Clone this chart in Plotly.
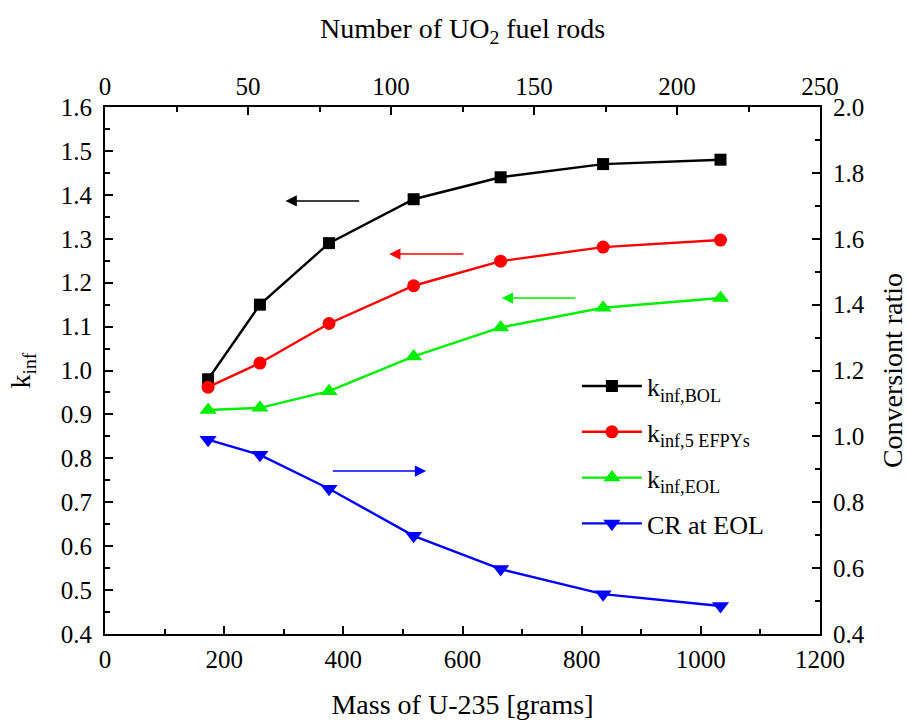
import plotly.graph_objects as go

mass_u235 = [173, 260, 376, 518, 664, 836, 1033]
k_inf_bol = [0.98, 1.15, 1.29, 1.39, 1.44, 1.47, 1.48]
k_inf_5efpy = [0.962, 1.017, 1.107, 1.193, 1.249, 1.281, 1.297]
k_inf_eol = [0.91, 0.915, 0.953, 1.032, 1.098, 1.143, 1.165]
cr_eol = [0.99, 0.944, 0.841, 0.698, 0.597, 0.521, 0.485]

names = ["k<sub>inf,BOL</sub>", "k<sub>inf,5 EFPYs</sub>", "k<sub>inf,EOL</sub>", "CR at EOL"]
colors = ["#000000", "#ff0000", "#00ee00", "#0000ff"]
symbols = ["square", "circle", "triangle-up", "triangle-down"]
msizes = [12, 13, 15, 15]

# arrows: (tail x, head x, y) in data coordinates of bottom/left axes
arrows = [(429, 303, 1.386, "#000000"), (604, 477, 1.265, "#ff0000"),
          (792, 666, 1.165, "#00ee00"), (380, 539, 0.771, "#0000ff")]

FONT = "Liberation Serif, Times New Roman, serif"

fig = go.Figure()
series = [k_inf_bol, k_inf_5efpy, k_inf_eol]
for i, ys in enumerate(series):
    fig.add_trace(go.Scatter(x=mass_u235, y=ys, mode="lines+markers", name=names[i],
                             legendgroup=str(i),
                             line=dict(color=colors[i], width=2.4),
                             marker=dict(symbol=symbols[i], size=msizes[i], color=colors[i])))
fig.add_trace(go.Scatter(x=mass_u235, y=cr_eol, mode="lines+markers", name=names[3],
                         legendgroup="3", yaxis="y2",
                         line=dict(color=colors[3], width=2.4),
                         marker=dict(symbol=symbols[3], size=msizes[3], color=colors[3])))
# empty trace so that the top axis is rendered
fig.add_trace(go.Scatter(x=[None], y=[None], xaxis="x2", yaxis="y", showlegend=False,
                         hoverinfo="skip", mode="markers"))

for tx, hx, y, c in arrows:
    fig.add_annotation(x=hx, y=y, ax=tx, ay=y, xref="x", yref="y", axref="x", ayref="y",
                       showarrow=True, arrowhead=2, arrowsize=1.5, arrowwidth=1.5,
                       arrowcolor=c, text="")

axis_common = dict(showline=True, linecolor="black", linewidth=2, ticks="inside",
                   tickcolor="black", tickwidth=1.5, ticklen=8, showgrid=False, zeroline=False,
                   automargin=False,
                   tickfont=dict(family=FONT, size=25, color="black"))

TITLE_SIZE = 28

fig.update_layout(
    width=908, height=725,
    margin=dict(l=105, r=88, t=107, b=91),
    plot_bgcolor="white", paper_bgcolor="white",
    font=dict(family=FONT, color="black"),
    xaxis=dict(range=[0, 1200], dtick=200, ticklabelstandoff=2,
               minor=dict(dtick=100, ticks="inside", ticklen=5, tickcolor="black"),
               title=dict(text="Mass of U-235 [grams]", font=dict(family=FONT, size=TITLE_SIZE), standoff=22),
               **axis_common),
    xaxis2=dict(range=[0, 250], dtick=50, overlaying="x", side="top", anchor="y", ticklabelstandoff=0,
                minor=dict(dtick=25, ticks="inside", ticklen=5, tickcolor="black"),
                title=dict(text="Number of UO<sub>2</sub> fuel rods", font=dict(family=FONT, size=TITLE_SIZE), standoff=26),
                **axis_common),
    yaxis=dict(range=[0.4, 1.6], dtick=0.1, tickformat=".1f", ticklabelstandoff=6,
               minor=dict(dtick=0.05, ticks="inside", ticklen=5, tickcolor="black"),
               title=dict(text="k<sub>inf</sub>", font=dict(family=FONT, size=TITLE_SIZE), standoff=22),
               **axis_common),
    yaxis2=dict(range=[0.4, 2.0], dtick=0.2, tickformat=".1f", overlaying="y", side="right", anchor="x",
                ticklabelstandoff=6,
                minor=dict(dtick=0.1, ticks="inside", ticklen=5, tickcolor="black"),
                title=dict(text="Conversiont ratio", font=dict(family=FONT, size=TITLE_SIZE), standoff=20),
                **axis_common),
    legend=dict(x=0.66, y=0.515, xanchor="left", yanchor="top", bgcolor="rgba(0,0,0,0)",
                font=dict(family=FONT, size=26), tracegroupgap=9, itemwidth=60),
    showlegend=True,
)

fig.write_html("out.html")
